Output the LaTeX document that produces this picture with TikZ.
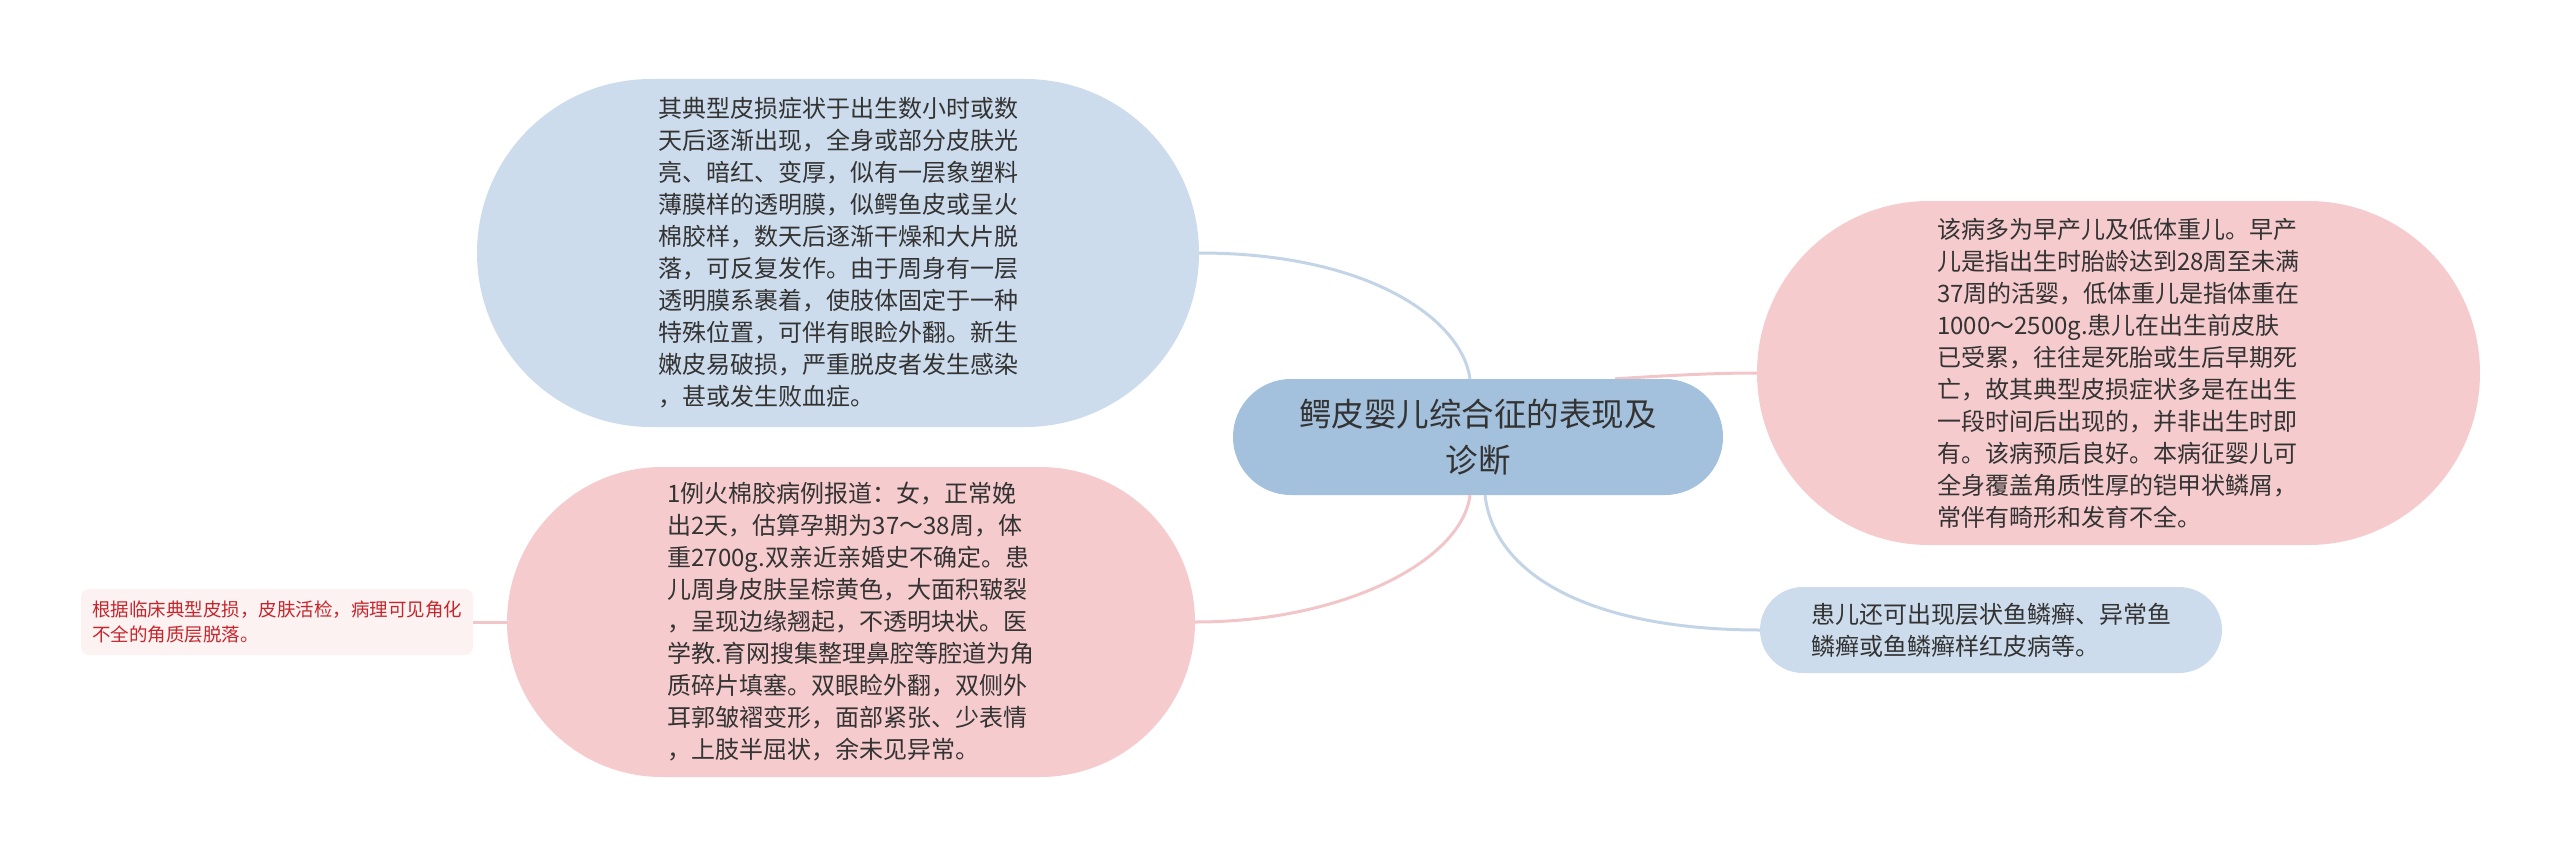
\documentclass[tikz,border=0pt]{standalone}
\usepackage{fontspec}
\setmainfont{Noto Sans CJK SC}
\usetikzlibrary{calc}
\definecolor{lblue}{HTML}{CDDCEC}
\definecolor{cblue}{HTML}{A3C0DC}
\definecolor{lpink}{HTML}{F6CBCD}
\definecolor{spink}{HTML}{FDF2F2}
\definecolor{sred}{HTML}{C5262C}
\definecolor{txt}{HTML}{333333}
\definecolor{eblue}{HTML}{C3D4E6}
\definecolor{epink}{HTML}{F2C5C8}
\pgfdeclarelayer{bg}
\pgfsetlayers{bg,main}
\tikzset{
  box/.style={inner sep=0pt, align=left, text=txt, font=\fontsize{24}{32}\selectfont},
  bluebox/.style={box, fill=lblue},
  pinkbox/.style={box, fill=lpink},
  centerbox/.style={inner sep=0pt, align=center, fill=cblue, text=txt, font=\fontsize{32.5}{46}\selectfont},
  smallbox/.style={inner sep=0pt, align=left, fill=spink, text=sred, rounded corners=8pt, font=\fontsize{18.5}{25}\selectfont},
  blueedge/.style={draw=eblue, line width=3pt},
  pinkedge/.style={draw=epink, line width=3pt},
}
\begin{document}
\begin{tikzpicture}[x=1pt,y=-1pt]
\useasboundingbox (0,0) rectangle (2560,859);
\node[centerbox, minimum width=490pt, minimum height=116pt, rounded corners=58pt] (c) at (1478,437) {鳄皮婴儿综合征的表现及\\诊断};
\node[bluebox, minimum width=722pt, minimum height=348pt, rounded corners=174pt] (tl) at (838,253) {其典型皮损症状于出生数小时或数\\天后逐渐出现，全身或部分皮肤光\\亮、暗红、变厚，似有一层象塑料\\薄膜样的透明膜，似鳄鱼皮或呈火\\棉胶样，数天后逐渐干燥和大片脱\\落，可反复发作。由于周身有一层\\透明膜系裹着，使肢体固定于一种\\特殊位置，可伴有眼睑外翻。新生\\嫩皮易破损，严重脱皮者发生感染\\，甚或发生败血症。};
\node[pinkbox, minimum width=688pt, minimum height=310pt, rounded corners=155pt] (bl) at (851,622) {1例火棉胶病例报道：女，正常娩\\出2天，估算孕期为37～38周，体\\重2700g.双亲近亲婚史不确定。患\\儿周身皮肤呈棕黄色，大面积皲裂\\，呈现边缘翘起，不透明块状。医\\学教.育网搜集整理鼻腔等腔道为角\\质碎片填塞。双眼睑外翻，双侧外\\耳郭皱褶变形，面部紧张、少表情\\，上肢半屈状，余未见异常。};
\node[pinkbox, minimum width=723pt, minimum height=344pt, rounded corners=172pt] (rp) at (2118.5,373) {该病多为早产儿及低体重儿。早产\\儿是指出生时胎龄达到28周至未满\\37周的活婴，低体重儿是指体重在\\1000～2500g.患儿在出生前皮肤\\已受累，往往是死胎或生后早期死\\亡，故其典型皮损症状多是在出生\\一段时间后出现的，并非出生时即\\有。该病预后良好。本病征婴儿可\\全身覆盖角质性厚的铠甲状鳞屑，\\常伴有畸形和发育不全。};
\node[bluebox, minimum width=462pt, minimum height=86pt, rounded corners=43pt] (br) at (1991,630) {患儿还可出现层状鱼鳞癣、异常鱼\\鳞癣或鱼鳞癣样红皮病等。};
\node[smallbox, minimum width=392pt, minimum height=66pt] (sm) at (277,622) {根据临床典型皮损，皮肤活检，病理可见角化\\不全的角质层脱落。};
\begin{pgfonlayer}{bg}
\draw[blueedge] (tl.east) .. controls (1370,253) and (1462,320) .. ([xshift=-8pt]c.north);
\draw[pinkedge] (c.23.6) .. controls (1660,376) and (1710,373) .. (rp.west);
\draw[pinkedge] ([xshift=-8pt]c.south) .. controls (1462,560) and (1345,622) .. (bl.east);
\draw[blueedge] ([xshift=7pt]c.south) .. controls (1495,580) and (1600,630) .. (br.west);
\draw[pinkedge] (bl.west) -- (sm.east);
\end{pgfonlayer}
\end{tikzpicture}
\end{document}
